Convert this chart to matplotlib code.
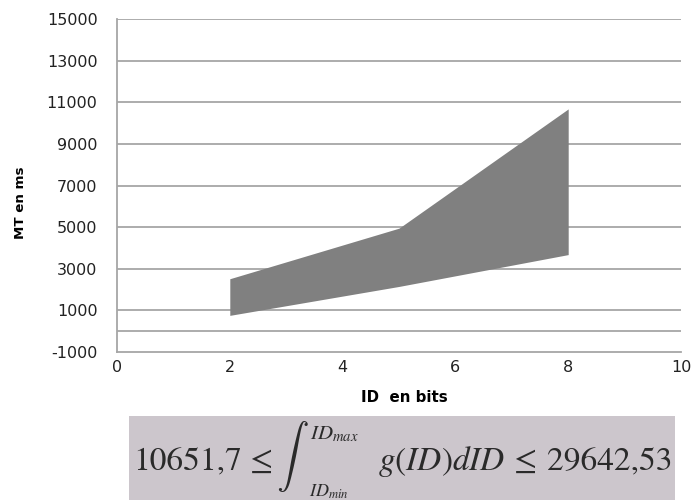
import numpy as np
import matplotlib
matplotlib.use("Agg")
import matplotlib.pyplot as plt
from matplotlib.patches import Rectangle

# band of MT (ms) against ID (bits)
ids = [2, 5, 8]
mt_upper = [2520, 4950, 10680]
mt_lower = [760, 2150, 3680]

y_ticks = [-1000, 1000, 3000, 5000, 7000, 9000, 11000, 13000, 15000]
x_ticks = [0, 2, 4, 6, 8, 10]

low_bound = "10651,7"
high_bound = "29642,53"

plt.rcParams['mathtext.fontset'] = 'stix'
plt.rcParams['axes.unicode_minus'] = False

W, H = 694, 500
fig = plt.figure(figsize=(W / 100, H / 100), dpi=100)
ax = fig.add_axes([117/W, 1 - 352/H, (681 - 117)/W, (352 - 19)/H])

grid_col = '#a6a6a6'
for v in y_ticks[1:]:
    ax.axhline(v, color=grid_col, lw=1.3, zorder=1)
ax.axhline(0, color=grid_col, lw=1.3, zorder=1)

ax.fill_between(ids, mt_lower, mt_upper, color='#808080', lw=0, zorder=2)

ax.set_xlim(0, 10)
ax.set_ylim(-1000, 15000)
ax.set_xticks(x_ticks)
ax.set_yticks(y_ticks)
ax.tick_params(length=0, labelsize=11.5, labelcolor='#222222')
ax.tick_params(axis='y', pad=14)
ax.tick_params(axis='x', pad=6)

for s in ['top', 'right']:
    ax.spines[s].set_visible(False)
for s in ['left', 'bottom']:
    ax.spines[s].set_color(grid_col)
    ax.spines[s].set_linewidth(1.3)

fig.text(20/W, 1 - 203/H, "MT en ms", rotation=90, fontsize=9.6,
         fontweight='bold', ha='center', va='center')
fig.text(404/W, 1 - 398/H, "ID  en bits", fontsize=10.8,
         fontweight='bold', ha='center', va='center')

# formula box below the chart
fig.patches.append(Rectangle((129/W, 0), (675 - 129)/W, (H - 415.7)/H,
                             transform=fig.transFigure, facecolor='#ccc6cc',
                             edgecolor='none', zorder=0))

fc = '#2a2a2a'
def ftext(x, y, s, **kw):
    kw.setdefault('fontsize', 24)
    kw.setdefault('color', fc)
    kw.setdefault('va', 'baseline')
    kw.setdefault('ha', 'left')
    return fig.text(x / W, 1 - y / H, s, **kw)

ftext(133, 470, low_bound, family='STIXGeneral')
ftext(250, 470, "\u2264", family='STIXGeneral')

# thin integral sign, scaled to span the box height
integ = ftext(292, 457, r"$\int$", math_fontfamily='cm', fontsize=40,
              va='center', ha='center')
r = fig.canvas.get_renderer()
hpx = integ.get_window_extent(r).height
integ.set_fontsize(40 * 76 / hpx)
ib = integ.get_window_extent(r)

ftext(ib.x1 + 2, 439, r"$ID_{max}$", fontsize=15)
ftext(ib.x1 + 1, 497, r"$ID_{min}$", fontsize=13)
ftext(378, 470, r"$g(ID)dID$")
ftext(514, 470, "\u2264", family='STIXGeneral')
ftext(547, 470, high_bound, family='STIXGeneral')

plt.savefig('out.png', dpi=100)
